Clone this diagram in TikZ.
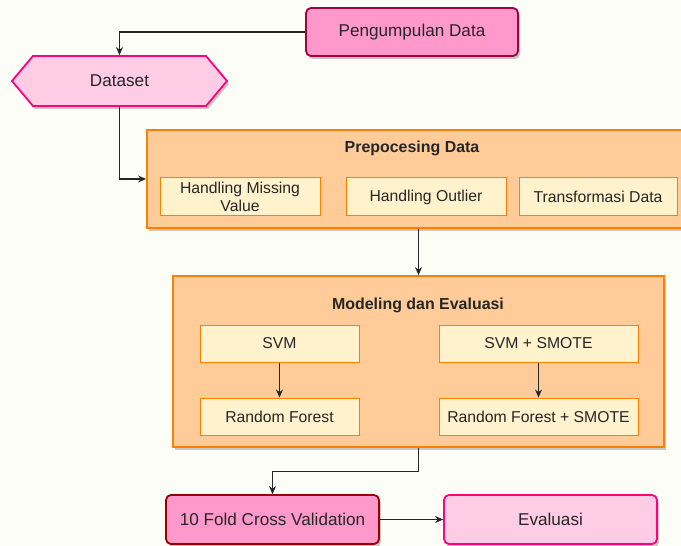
\documentclass[tikz,border=0pt]{standalone}
\usepackage{fontspec}
\setmainfont{Liberation Sans}
\usetikzlibrary{arrows.meta,positioning,calc,shadows,shapes.symbols}

\definecolor{bgcream}{HTML}{FDFDF7}
\definecolor{pinkdark}{HTML}{FF99CC}
\definecolor{pinklight}{HTML}{FFCCE6}
\definecolor{wine}{HTML}{A50040}
\definecolor{hotpink}{HTML}{FF0080}
\definecolor{peach}{HTML}{FFCC99}
\definecolor{orangeline}{HTML}{FF8000}
\definecolor{paleyellow}{HTML}{FFF2CC}
\definecolor{darkred}{HTML}{990000}

\tikzset{
  softshadow/.style={drop shadow={shadow xshift=2bp,shadow yshift=-3bp,opacity=0.3,fill=black!70}},
  startbox/.style={rectangle, rounded corners=5bp, draw=wine, fill=pinkdark, line width=1.8bp,
    softshadow, minimum width=212bp, minimum height=48bp, text=black!85,
    font=\fontsize{17.2}{20}\selectfont},
  hexbox/.style={signal, signal to=east and west, signal pointer angle=100, draw=hotpink,
    fill=pinklight, line width=1.8bp, softshadow, minimum width=215bp, minimum height=50bp,
    text=black!85, font=\fontsize{17.2}{20}\selectfont},
  groupbox/.style={rectangle, draw=orangeline, fill=peach, line width=1.8bp, softshadow},
  grouptitle/.style={font=\fontsize{16}{19}\selectfont\bfseries, text=black!85},
  itembox/.style={rectangle, draw=orangeline, fill=paleyellow, line width=1bp, minimum height=37bp,
    align=center, text=black!85, font=\fontsize{15.8}{18}\selectfont},
  link/.style={-{Stealth[length=8bp,width=7bp]}, line width=1.1bp, black!85}
}

\begin{document}
\begin{tikzpicture}[x=1bp, y=-1bp]
  \useasboundingbox (0,0) rectangle (681,546);
  \fill[bgcream] (0,0) rectangle (681,546);

  % top
  \node[startbox] (collect) at (412,32) {Pengumpulan Data};
  \node[hexbox] (dataset) at (119.5,81) {Dataset};

  % preprocessing
  \node[groupbox, minimum width=536bp, minimum height=98bp] (prepro) at (415,179) {};
  \node[grouptitle] (preprotitle) at (412,148) {Prepocesing Data};
  \node[itembox, minimum width=160bp, minimum height=38bp] (missing) at (240,197) {Handling Missing\\Value};
  \node[itembox, minimum width=160bp, minimum height=38bp] (outlier) at (426,197) {Handling Outlier};
  \node[itembox, minimum width=158bp, minimum height=38bp] (transform) at (598,197) {Transformasi Data};

  % modeling
  \node[groupbox, minimum width=491bp, minimum height=171bp] (model) at (418.5,361.5) {};
  \node[grouptitle] (modeltitle) at (418,305) {Modeling dan Evaluasi};
  \node[itembox, minimum width=159bp] (svm) at (279.5,343.5) {SVM};
  \node[itembox, minimum width=159bp] (rf) at (279.5,416.5) {Random Forest};
  \node[itembox, minimum width=199bp] (svmsm) at (538.5,343.5) {SVM + SMOTE};
  \node[itembox, minimum width=199bp] (rfsm) at (538.5,416.5) {Random Forest + SMOTE};

  % bottom
  \node[startbox, draw=darkred, minimum width=213bp, minimum height=49bp] (fold) at (272.5,519.5) {10 Fold Cross Validation};
  \node[startbox, draw=hotpink, fill=pinklight, minimum width=213bp, minimum height=49bp] (eval) at (550.5,519.5) {Evaluasi};

  % arrows
  \draw[link] (collect.west) -| (dataset.north);
  \draw[link] (dataset.south) |- (prepro.west);
  \draw[link] (prepro.south -| model.north) -- (model.north);
  \draw[link] (svm) -- (rf);
  \draw[link] (svmsm) -- (rfsm);
  \draw[link] (model.south) -- ++(0,24) -| (fold.north);
  \draw[link] (fold) -- (eval);
\end{tikzpicture}
\end{document}
